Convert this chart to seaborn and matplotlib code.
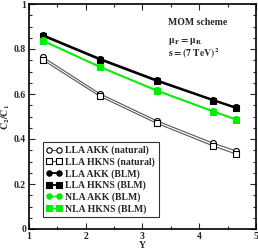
import matplotlib
matplotlib.use("Agg")
import matplotlib.pyplot as plt
import pandas as pd
import seaborn as sns
from matplotlib.ticker import MultipleLocator

# rapidity points
Y = [1.25, 2.25, 3.25, 4.25, 4.65]

# C2/C1 values
lla_akk_nat = [0.763, 0.601, 0.481, 0.381, 0.347]
lla_hkns_nat = [0.751, 0.590, 0.470, 0.369, 0.333]
lla_akk_blm = [0.862, 0.757, 0.662, 0.574, 0.540]
lla_hkns_blm = [0.858, 0.753, 0.658, 0.571, 0.537]
nla_akk_blm = [0.838, 0.722, 0.617, 0.524, 0.488]
nla_hkns_blm = [0.835, 0.719, 0.614, 0.521, 0.485]

labels = [
    "LLA AKK (natural)",
    "LLA HKNS (natural)",
    "LLA AKK (BLM)",
    "LLA HKNS (BLM)",
    "NLA AKK (BLM)",
    "NLA HKNS (BLM)",
]
series = [lla_akk_nat, lla_hkns_nat, lla_akk_blm, lla_hkns_blm, nla_akk_blm, nla_hkns_blm]

green = "#00ee00"
styles = {
    "LLA AKK (natural)": dict(color="#555555", marker="o", mfc="white", mec="black", lw=0.8),
    "LLA HKNS (natural)": dict(color="#555555", marker="s", mfc="white", mec="black", lw=0.8),
    "LLA AKK (BLM)": dict(color="black", marker="o", mfc="black", mec="black", lw=1.3),
    "LLA HKNS (BLM)": dict(color="black", marker="s", mfc="black", mec="black", lw=1.3),
    "NLA AKK (BLM)": dict(color=green, marker="o", mfc=green, mec=green, lw=1.0),
    "NLA HKNS (BLM)": dict(color=green, marker="s", mfc=green, mec=green, lw=1.0),
}

# long table for seaborn
df = pd.concat(
    [pd.DataFrame({"Y": Y, "ratio": vals, "curve": lab}) for lab, vals in zip(labels, series)]
)

sns.set_style("ticks")
plt.rcParams["font.family"] = ["Liberation Serif", "DejaVu Serif"]
plt.rcParams["font.weight"] = "bold"
plt.rcParams["mathtext.fontset"] = "stix"

fig = plt.figure(figsize=(2.58, 2.5), dpi=100)
ax = fig.add_axes([0.112, 0.084, 0.880, 0.900])

for lab in labels:
    st = styles[lab]
    sns.lineplot(
        data=df[df["curve"] == lab], x="Y", y="ratio", ax=ax,
        color=st["color"], marker=st["marker"], markerfacecolor=st["mfc"],
        markeredgecolor=st["mec"], markeredgewidth=0.8, markersize=4.3,
        linewidth=st["lw"], label=lab,
    )

ax.set_xlim(1, 5)
ax.set_ylim(0, 1)
ax.xaxis.set_major_locator(MultipleLocator(1))
ax.xaxis.set_minor_locator(MultipleLocator(0.5))
ax.yaxis.set_minor_locator(MultipleLocator(0.05))
ax.set_yticks([0, 0.2, 0.4, 0.6, 0.8, 1])
ax.set_yticklabels(["0", "0.2", "0.4", "0.6", "0.8", "1"])
ax.tick_params(which="both", direction="in", top=True, right=True, labelsize=7, pad=2)
ax.tick_params(which="major", length=4, width=0.8)
ax.tick_params(which="minor", length=2.5, width=0.8)
for sp in ax.spines.values():
    sp.set_linewidth(1.2)
    sp.set_color("black")

ax.set_xlabel("Y", fontsize=7, fontweight="bold", labelpad=0)
ax.set_ylabel(r"$\mathbf{C_2/C_1}$", fontsize=7, labelpad=1)

ax.text(0.612, 0.905, "MOM scheme", transform=ax.transAxes, fontsize=7, fontweight="bold")
ax.text(0.612, 0.825, r"$\mathbf{\mu_F = \mu_R}$", transform=ax.transAxes, fontsize=7)
ax.text(0.612, 0.762, r"$\mathbf{s = (7\ TeV)^2}$", transform=ax.transAxes, fontsize=7)

leg = ax.legend(
    loc="lower left", bbox_to_anchor=(0.06, 0.052), borderaxespad=0,
    numpoints=2, frameon=True, fancybox=False,
    handlelength=1.6, handletextpad=0.4, labelspacing=0.22, borderpad=0.35,
    prop={"weight": "bold", "size": 7}, markerscale=0.9,
)
leg.get_frame().set_edgecolor("black")
leg.get_frame().set_linewidth(0.8)

fig.savefig("out.png", dpi=100)
